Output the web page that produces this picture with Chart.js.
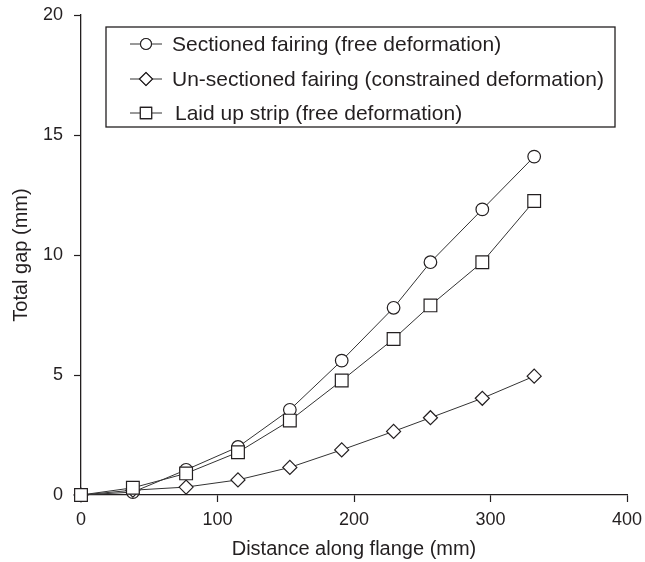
<!DOCTYPE html>
<html>
<head>
<meta charset="utf-8">
<script src="https://cdn.jsdelivr.net/npm/chart.js@4"></script>
<style>
  body { margin: 0; background: #fff; }
  #wrap { width: 645px; height: 562px; }
</style>
</head>
<body>
<div id="wrap"><canvas id="chart" width="645" height="562"></canvas></div>
<script>
// Values
const distance = [0, 38, 77, 115, 153, 191, 229, 256, 294, 332];
const sectioned = [0, 0.12, 1.05, 2.0, 3.55, 5.6, 7.8, 9.7, 11.9, 14.1];
const unsectioned = [0, 0.2, 0.33, 0.63, 1.15, 1.88, 2.65, 3.22, 4.03, 4.95];
const laidUp = [0, 0.3, 0.9, 1.78, 3.1, 4.77, 6.5, 7.9, 9.7, 12.25];
const xTicks = [0, 100, 200, 300, 400];
const yTicks = [0, 5, 10, 15, 20];
const seriesNames = [
  'Sectioned fairing (free deformation)',
  'Un-sectioned fairing (constrained deformation)',
  'Laid up strip (free deformation)'
];

const ink = '#231f20';
const font = '"Liberation Sans", Arial, sans-serif';

function pts(ys) {
  return distance.map((x, i) => ({ x: x, y: ys[i] }));
}

function makeSet(label, ys, style, radius, order) {
  return {
    label: label,
    data: pts(ys),
    borderColor: '#333',
    borderWidth: 1,
    pointStyle: style,
    pointRadius: radius,
    pointBorderColor: ink,
    pointBorderWidth: 1.2,
    pointBackgroundColor: '#fff',
    tension: 0,
    clip: false,
    order: order
  };
}

// Legend drawn inside the plot, with a line through each marker
const boxLegend = {
  id: 'boxLegend',
  afterDraw(chart) {
    const ctx = chart.ctx;
    const rows = [44, 79, 113];
    const textX = [172, 172, 175];
    ctx.save();
    ctx.strokeStyle = ink;
    ctx.lineWidth = 1.3;
    ctx.strokeRect(106, 27, 509, 100);
    ctx.font = '21px ' + font;
    ctx.fillStyle = ink;
    ctx.textBaseline = 'middle';
    chart.data.datasets.forEach((ds, i) => {
      const y = rows[i];
      ctx.beginPath();
      ctx.moveTo(130, y);
      ctx.lineTo(162, y);
      ctx.lineWidth = 1;
      ctx.strokeStyle = '#333';
      ctx.stroke();
      ctx.lineWidth = 1.1;
      ctx.strokeStyle = ink;
      ctx.fillStyle = '#fff';
      const r = ds.pointStyle === 'rect' ? 8 : ds.pointStyle === 'rectRot' ? 6.5 : 5.5;
      Chart.helpers.drawPoint(ctx, { pointStyle: ds.pointStyle, radius: r, borderWidth: 1.1, rotation: 0 }, 146, y);
      ctx.fill();
      ctx.stroke();
      ctx.fillStyle = ink;
      ctx.fillText(ds.label, textX[i], y + 1);
    });
    ctx.restore();
  }
};

new Chart(document.getElementById('chart'), {
  type: 'line',
  data: {
    datasets: [
      makeSet(seriesNames[0], sectioned, 'circle', 6.3, 2),
      makeSet(seriesNames[1], unsectioned, 'rectRot', 7, 1),
      makeSet(seriesNames[2], laidUp, 'rect', 9, 0)
    ]
  },
  options: {
    responsive: false,
    animation: false,
    layout: { padding: { left: 0, top: 15, right: 18, bottom: 0 } },
    plugins: { legend: { display: false }, tooltip: { enabled: false } },
    scales: {
      x: {
        type: 'linear',
        min: xTicks[0],
        max: xTicks[xTicks.length - 1],
        afterBuildTicks(scale) { scale.ticks = xTicks.map(v => ({ value: v })); },
        afterFit(scale) {
          scale.height = 67;
          scale.paddingLeft = 0;
          scale.paddingRight = 0;
        },
        grid: { drawOnChartArea: false, drawTicks: true, tickLength: 7, color: ink, tickWidth: 1.2 },
        border: { display: true, color: ink, width: 1.3 },
        ticks: { color: ink, font: { family: font, size: 18 }, padding: 7, maxRotation: 0 },
        title: { display: true, text: 'Distance along flange (mm)', color: ink, font: { family: font, size: 20 }, padding: { top: 0, bottom: 1 } }
      },
      y: {
        min: yTicks[0],
        max: yTicks[yTicks.length - 1],
        afterBuildTicks(scale) { scale.ticks = yTicks.map(v => ({ value: v })); },
        afterFit(scale) {
          scale.width = 81;
          scale.paddingTop = 0;
          scale.paddingBottom = 0;
        },
        grid: { drawOnChartArea: false, drawTicks: true, tickLength: 7, color: ink, tickWidth: 1.2 },
        border: { display: true, color: ink, width: 1.3 },
        ticks: { color: ink, font: { family: font, size: 18 }, padding: 11 },
        title: { display: true, text: 'Total gap (mm)', color: ink, font: { family: font, size: 20 }, padding: { top: 9, bottom: 0 } }
      }
    }
  },
  plugins: [boxLegend]
});
</script>
</body>
</html>
